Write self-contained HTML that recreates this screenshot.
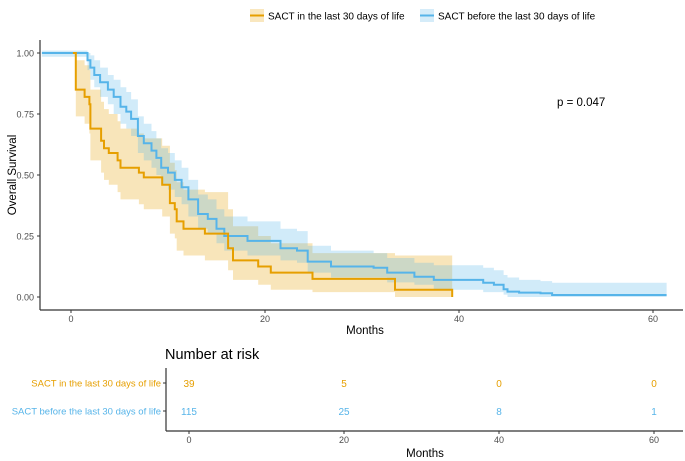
<!DOCTYPE html>
<html><head><meta charset="utf-8"><style>
html,body{margin:0;padding:0;background:#fff;}
svg{display:block;font-family:"Liberation Sans",Arial,sans-serif;}
</style></head><body>
<svg id="c" width="685" height="461" viewBox="0 0 685 461">
<g id="legend">
 <rect x="250" y="9" width="14" height="13" fill="#E69F00" fill-opacity="0.25"/>
 <line x1="250" y1="15.5" x2="264" y2="15.5" stroke="#E69F00" stroke-width="2"/>
 <text x="268" y="19.5" font-size="10" fill="#000">SACT in the last 30 days of life</text>
 <rect x="420" y="9" width="14" height="13" fill="#56B4E9" fill-opacity="0.25"/>
 <line x1="420" y1="15.5" x2="434" y2="15.5" stroke="#56B4E9" stroke-width="2"/>
 <text x="438" y="19.5" font-size="10" fill="#000">SACT before the last 30 days of life</text>
</g>
<g id="plot"></g>
<g id="table"></g>
</svg>
<script>
const orangeT=[0.2,0.5,1.4,1.9,2.0,3.1,3.4,3.9,4.8,5.1,7.0,7.5,9.4,10.2,10.7,10.9,11.6,13.8,16.2,16.7,19.3,20.6,24.9,33.4,39.3];
const orangeS=[1,.85,.82,.79,.69,.64,.61,.59,.56,.53,.51,.49,.46,.385,.36,.31,.28,.26,.20,.15,.125,.10,.074,.03,0];
const orangeLo=[1,.74,.71,.67,.56,.51,.48,.46,.43,.40,.38,.36,.33,.26,.24,.19,.17,.15,.11,.07,.05,.03,.02,0,0];
const orangeHi=[1,.97,.95,.93,.85,.80,.77,.75,.72,.69,.67,.65,.62,.55,.52,.47,.44,.43,.36,.29,.25,.22,.18,.17,.17];
const blueT=[-3,1.7,2.0,2.4,3.0,3.8,4.4,5.1,5.7,6.2,6.9,7.5,8.3,8.8,9.3,10.0,10.7,11.4,12.1,13.1,14.1,15.0,15.8,18.2,21.6,23.3,24.4,26.8,31.2,32.6,35.4,37.4,42.5,43.6,44.6,45,46.2,48.4,49.6,61.4];
const blueS=[1,.97,.94,.91,.88,.85,.82,.78,.76,.73,.66,.63,.60,.57,.53,.51,.48,.45,.40,.34,.32,.28,.25,.23,.20,.19,.145,.125,.12,.10,.083,.07,.058,.05,.032,.022,.018,.015,.008,.008];
const blueLo=[.985,.93,.89,.86,.82,.79,.75,.71,.69,.66,.59,.56,.53,.50,.46,.44,.41,.38,.33,.28,.26,.22,.19,.17,.15,.14,.10,.08,.08,.06,.05,.03,.02,.02,.01,0,0,0,0,0];
const blueHi=[1.01,1,.99,.97,.94,.91,.89,.86,.84,.81,.74,.71,.68,.65,.61,.59,.56,.53,.48,.42,.40,.36,.33,.31,.28,.27,.21,.19,.18,.16,.14,.13,.12,.11,.09,.08,.07,.065,.058,.058];
const xTicks=[0,20,40,60];
const yTicks=[0,0.25,0.5,0.75,1];
const yTickLabels=["0.00","0.25","0.50","0.75","1.00"];
const riskGroups=["SACT in the last 30 days of life","SACT before the last 30 days of life"];
const riskOrange=[39,5,0,0];
const riskBlue=[115,25,8,1];
const pLabel="p = 0.047";

const NS="http://www.w3.org/2000/svg";
const X=t=>71+9.7*t, Y=s=>297-244*s, XT=t=>189+7.75*t;
function mk(tag,attrs,parent,text){const e=document.createElementNS(NS,tag);for(const k in attrs)e.setAttribute(k,attrs[k]);if(text!==undefined)e.textContent=text;parent.appendChild(e);return e;}
const plot=document.getElementById('plot'), table=document.getElementById('table');
function stepPts(T,S){let p=[];for(let i=0;i<T.length;i++){if(i>0)p.push([X(T[i]),Y(S[i-1])]);p.push([X(T[i]),Y(S[i])]);}return p;}
function band(T,Lo,Hi,color,name){
 const up=stepPts(T,Hi), lo=stepPts(T,Lo).reverse();
 const d='M'+up.concat(lo).map(p=>p[0].toFixed(1)+','+p[1].toFixed(1)).join('L')+'Z';
 const e=mk('path',{d:d,fill:color,'fill-opacity':0.27,stroke:'none'},plot);
 
 
}
function line(T,S,color,name){
 const d='M'+stepPts(T,S).map(p=>p[0].toFixed(1)+','+p[1].toFixed(1)).join('L');
 const e=mk('path',{d:d,fill:'none',stroke:color,'stroke-width':2},plot);
 
 
}
band(orangeT,orangeLo,orangeHi,'#E69F00','ci-band-orange');
band(blueT,blueLo,blueHi,'#56B4E9','ci-band-blue');
line(blueT,blueS,'#56B4E9','survival-line-blue');
line(orangeT,orangeS,'#E69F00','survival-line-orange');
let ax=mk('line',{x1:40,y1:40,x2:40,y2:310,stroke:'#333','stroke-width':1.2},plot);


ax=mk('line',{x1:40,y1:310,x2:683,y2:310,stroke:'#333','stroke-width':1.2},plot);


yTicks.forEach((v,i)=>{mk('line',{x1:37,x2:40,y1:Y(v),y2:Y(v),stroke:'#333'},plot);
 const t=mk('text',{x:34,y:Y(v)+3.5,'text-anchor':'end','font-size':9,fill:'#4d4d4d'},plot,yTickLabels[i]);
 
 });
xTicks.forEach(v=>{mk('line',{x1:X(v),x2:X(v),y1:310,y2:313,stroke:'#333'},plot);
 const t=mk('text',{x:X(v),y:322,'text-anchor':'middle','font-size':9,fill:'#4d4d4d'},plot,String(v));
 
 });
let tt=mk('text',{x:365,y:334,'text-anchor':'middle','font-size':11.5,fill:'#000'},plot,'Months');


tt=mk('text',{x:16,y:175,'text-anchor':'middle','font-size':11.5,fill:'#000',transform:'rotate(-90 16 175)'},plot,'Overall Survival');


tt=mk('text',{x:557,y:106,'font-size':11.5,fill:'#000'},plot,pLabel);


tt=mk('text',{x:165,y:359,'font-size':14.5,fill:'#000'},table,'Number at risk');


ax=mk('line',{x1:166,y1:368,x2:166,y2:431,stroke:'#333','stroke-width':1.2},table);


ax=mk('line',{x1:166,y1:431,x2:683,y2:431,stroke:'#333','stroke-width':1.2},table);


const rows=[[riskOrange,'#E69F00',383],[riskBlue,'#56B4E9',411]];
rows.forEach((r,ri)=>{
 mk('line',{x1:163,x2:166,y1:r[2],y2:r[2],stroke:'#333'},table);
 const l=mk('text',{x:161,y:r[2]+3.5,'text-anchor':'end','font-size':9.5,fill:r[1]},table,riskGroups[ri]);
 
 
 r[0].forEach((v,i)=>{const c=mk('text',{x:XT(xTicks[i]),y:r[2]+4,'text-anchor':'middle','font-size':10,fill:r[1]},table,String(v));
  
  });
});
xTicks.forEach(v=>{mk('line',{x1:XT(v),x2:XT(v),y1:431,y2:434,stroke:'#333'},table);
 const t=mk('text',{x:XT(v),y:443,'text-anchor':'middle','font-size':9,fill:'#4d4d4d'},table,String(v));
 
 });
tt=mk('text',{x:425,y:457,'text-anchor':'middle','font-size':11.5,fill:'#000'},table,'Months');


</script>
</body></html>
